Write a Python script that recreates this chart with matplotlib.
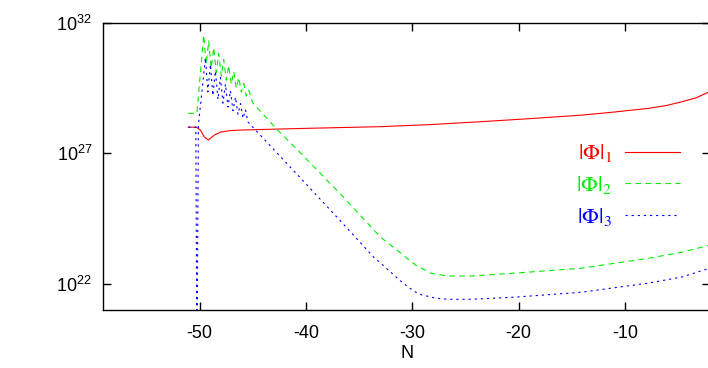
import numpy as np
import matplotlib
matplotlib.use("Agg")
import matplotlib.pyplot as plt
from matplotlib.font_manager import FontProperties
from matplotlib.ticker import FixedLocator, FuncFormatter

plt.rcParams['font.family'] = ['Liberation Sans', 'DejaVu Sans']
plt.rcParams['mathtext.fontset'] = 'custom'
plt.rcParams['mathtext.rm'] = 'Liberation Sans'
plt.rcParams['mathtext.it'] = 'Liberation Sans:italic'
plt.rcParams['axes.unicode_minus'] = False

# |Phi|_1 (rot) - N und log10-Werte
n_phi1 = [-51.07, -50.31, -49.93, -49.56, -49.18, -48.61, -48.05, -47.11,
          -46.16, -40.51, -32.97, -28.25, -23.54, -18.83, -14.11, -11.01,
          -7.80, -6.11, -4.69, -3.28, -2.05]
log_phi1 = [28.00, 28.00, 27.89, 27.62, 27.51, 27.70, 27.81, 27.87,
            27.89, 27.95, 28.02, 28.10, 28.21, 28.33, 28.46, 28.58,
            28.72, 28.83, 28.97, 29.13, 29.36]

# |Phi|_2 (gruen)
n_phi2 = [-51.07, -50.41, -50.26, -49.62, -49.39, -49.15, -48.92, -48.68,
          -48.44, -48.21, -47.97, -47.74, -47.50, -47.27, -47.03, -46.80,
          -46.56, -46.32, -46.09, -45.85, -45.62, -45.38, -45.03, -42.68,
          -40.51, -36.76, -32.99, -31.10, -29.69, -28.27, -26.67, -24.49,
          -20.44, -14.11, -7.80, -4.69, -2.05]
log_phi2 = [28.53, 28.53, 28.53, 31.53, 30.41, 31.30, 30.26, 31.05,
            30.10, 30.82, 29.95, 30.59, 29.80, 30.36, 29.64, 30.13,
            29.49, 29.90, 29.34, 29.67, 29.19, 29.42, 28.94, 27.89,
            27.01, 25.44, 23.79, 23.18, 22.72, 22.41, 22.30, 22.30,
            22.41, 22.60, 22.98, 23.21, 23.48]

# |Phi|_3 (blau)
n_phi3 = [-51.07, -50.36, -50.26, -50.12, -49.46, -49.23, -48.99, -48.76,
          -48.52, -48.28, -48.05, -47.81, -47.58, -47.34, -47.11, -46.87,
          -46.63, -46.40, -46.16, -45.93, -45.69, -45.46, -44.75, -40.51,
          -36.74, -33.63, -32.97, -31.08, -30.61, -29.86, -29.20, -27.79,
          -26.66, -24.49, -20.44, -14.11, -7.80, -4.69, -2.05]
log_phi3 = [28.00, 28.00, 19.00, 28.08, 30.65, 29.35, 30.40, 29.21,
            30.15, 29.06, 29.90, 28.92, 29.65, 28.77, 29.40, 28.63,
            29.15, 28.49, 28.90, 28.34, 28.66, 28.20, 27.89, 26.05,
            24.40, 23.02, 22.79, 22.10, 21.95, 21.72, 21.59, 21.45,
            21.41, 21.41, 21.49, 21.68, 22.03, 22.26, 22.60]

x_ticks = [-50, -40, -30, -20, -10]
y_exponents = [22, 27, 32]
labels = [r'$|\Phi|_1$', r'$|\Phi|_2$', r'$|\Phi|_3$']
farben = ['#ff0000', '#00ee00', '#0000ff']

fig = plt.figure(figsize=(7.08, 3.68), dpi=100)
ax = fig.add_axes([0.1458, 0.1576, 0.8572, 0.7807])

ax.plot(n_phi1, 10.0 ** np.array(log_phi1), color=farben[0], lw=0.8,
        label=labels[0])
ax.plot(n_phi2, 10.0 ** np.array(log_phi2), color=farben[1], lw=0.8,
        dashes=(5, 4), label=labels[1])
ax.plot(n_phi3, 10.0 ** np.array(log_phi3), color=farben[2], lw=0.8,
        dashes=(2, 3.5), label=labels[2])

ax.set_yscale('log')
ax.set_xlim(-59.07, -2.0)
ax.set_ylim(1e21, 1e32)

ax.xaxis.set_major_locator(FixedLocator(x_ticks))
ax.yaxis.set_major_locator(FixedLocator([10.0 ** e for e in y_exponents]))
ax.yaxis.set_minor_locator(FixedLocator([]))
ax.yaxis.set_major_formatter(FuncFormatter(
    lambda v, pos: r'$10^{%d}$' % round(np.log10(v))))
ax.tick_params(direction='in', length=6, width=1.0, labelsize=13,
               top=True, right=True)
ax.tick_params(axis='x', pad=11)
ax.tick_params(axis='y', pad=8)
ax.set_xlabel('N', fontsize=13, labelpad=2)

for s in ax.spines.values():
    s.set_linewidth(1.0)

prop = FontProperties(family='Liberation Sans', size=16, math_fontfamily='stix')
leg = ax.legend(loc='upper left', bbox_to_anchor=(0.765, 0.614), frameon=False,
                markerfirst=False, prop=prop, handlelength=2.45,
                handletextpad=0.6, labelspacing=0.44, labelcolor='linecolor',
                borderaxespad=0)

fig.savefig('out.png', dpi=100)
